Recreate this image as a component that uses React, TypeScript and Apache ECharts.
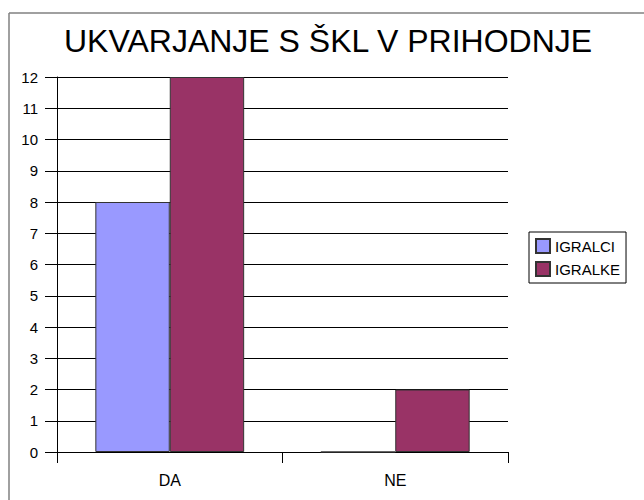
import React, { useEffect, useRef } from "react";
import * as echarts from "echarts";

const categories = ["DA", "NE"];
const igralci = [8, 0];
const igralke = [12, 2];
const seriesNames = ["IGRALCI", "IGRALKE"];
const titleText = "UKVARJANJE S ŠKL V PRIHODNJE";

const FONT = "Arial, 'Liberation Sans', sans-serif";

export default function App() {
  const ref = useRef<HTMLDivElement>(null);
  useEffect(() => {
    document.body.style.margin = "0";
    const chart = echarts.init(ref.current!, undefined, { renderer: "svg" });
    chart.setOption({
      animation: false,
      backgroundColor: "#ffffff",
      title: {
        text: titleText,
        left: 64,
        top: 25,
        padding: 0,
        textStyle: { fontFamily: FONT, fontSize: 32, fontWeight: "normal", color: "#000" },
      },
      legend: {
        orient: "vertical",
        left: 529,
        top: 232,
        padding: [6, 6, 6, 6],
        itemGap: 7,
        itemWidth: 14,
        itemHeight: 14,
        icon: "rect",
        borderColor: "#000",
        borderWidth: 1,
        data: seriesNames,
        textStyle: { fontFamily: FONT, fontSize: 15, color: "#000" },
      },
      graphic: [
        { type: "line", shape: { x1: 9, y1: 13, x2: 644, y2: 13 }, style: { stroke: "#808080", lineWidth: 1.5 } },
        { type: "line", shape: { x1: 9, y1: 13, x2: 9, y2: 500 }, style: { stroke: "#808080", lineWidth: 1.5 } },
      ],
      grid: { left: 57, right: 136, top: 77, bottom: 48, containLabel: false },
      xAxis: {
        type: "category",
        data: categories,
        axisLine: { lineStyle: { color: "#000", width: 1 } },
        axisTick: { show: true, length: 11, alignWithLabel: false, lineStyle: { color: "#000" } },
        axisLabel: { fontFamily: FONT, fontSize: 16, color: "#000", margin: 20 },
      },
      yAxis: {
        type: "value",
        min: 0,
        max: 12,
        interval: 1,
        axisLine: { show: true, lineStyle: { color: "#000", width: 1 } },
        axisTick: { show: true, length: 12, inside: false, lineStyle: { color: "#000" } },
        axisLabel: { fontFamily: FONT, fontSize: 15, color: "#000", margin: 19 },
        splitLine: { show: true, lineStyle: { color: "#000", width: 1 } },
      },
      series: [
        {
          name: seriesNames[0],
          type: "bar",
          data: igralci,
          barGap: "0%",
          barCategoryGap: "34%",
          itemStyle: { color: "#9999FF", borderColor: "#333", borderWidth: 1 },
        },
        {
          name: seriesNames[1],
          type: "bar",
          data: igralke,
          barGap: "0%",
          barCategoryGap: "34%",
          itemStyle: { color: "#993366", borderColor: "#333", borderWidth: 1 },
        },
      ],
    });
    return () => chart.dispose();
  }, []);
  return <div ref={ref} style={{ width: 644, height: 500 }} />;
}
